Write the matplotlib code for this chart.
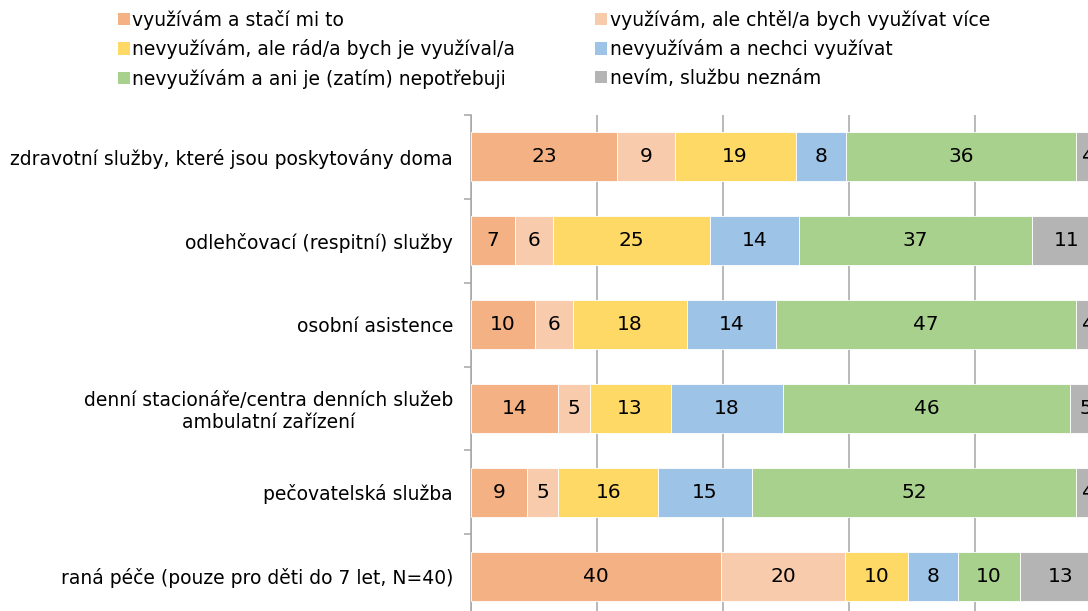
import numpy as np
import matplotlib.pyplot as plt
from matplotlib.patches import Patch

# categories, top to bottom
categories = [
    "zdravotní služby, které jsou poskytovány doma",
    "odlehčovací (respitní) služby",
    "osobní asistence",
    "denní stacionáře/centra denních služeb\nambulatní zařízení",
    "pečovatelská služba",
    "raná péče (pouze pro děti do 7 let, N=40)",
]

series_names = [
    "využívám a stačí mi to",
    "využívám, ale chtěl/a bych využívat více",
    "nevyužívám, ale rád/a bych je využíval/a",
    "nevyužívám a nechci využívat",
    "nevyužívám a ani je (zatím) nepotřebuji",
    "nevím, službu neznám",
]

uses_enough = [23, 7, 10, 14, 9, 40]
uses_wants_more = [9, 6, 6, 5, 5, 20]
not_uses_would_like = [19, 25, 18, 13, 16, 10]
not_uses_dont_want = [8, 14, 14, 18, 15, 8]
not_uses_dont_need = [36, 37, 47, 46, 52, 10]
dont_know = [4, 11, 4, 5, 4, 13]

series = [uses_enough, uses_wants_more, not_uses_would_like,
          not_uses_dont_want, not_uses_dont_need, dont_know]
colors = ["#F4B183", "#F8CBAD", "#FFD966", "#9DC3E6", "#A9D18E", "#B4B4B4"]

fig = plt.figure(figsize=(10.88, 6.11), dpi=100)
# axes extends past the right and bottom edge (chart is cropped)
ax = fig.add_axes([471 / 1088, 1 - 618 / 611, 630 / 1088, 503 / 611])

data = np.array(series, dtype=float)
totals = data.sum(axis=0)  # 100 % stacked: each row scaled to its sum
y = np.arange(len(categories))
left = np.zeros(len(categories))
for vals, col in zip(data, colors):
    widths = vals / totals * 100
    ax.barh(y, widths, left=left, height=0.585, color=col,
            edgecolor="white", linewidth=0.6, zorder=3)
    for yi, (l, w, v) in enumerate(zip(left, widths, vals)):
        ax.text(l + w / 2, yi, f"{v:.0f}", ha="center", va="center",
                fontsize=14.5, color="black", zorder=4)
    left += widths

ax.set_xlim(0, 100)
ax.set_ylim(len(categories) - 0.5, -0.5)
ax.set_xticks(np.arange(0, 101, 20))
ax.xaxis.grid(True, color="#A6A6A6", linewidth=1.1, zorder=0)
ax.tick_params(axis="x", length=0, labelbottom=False)

ax.set_yticks(y)
ax.set_yticklabels(categories, fontsize=13.5)
ax.set_yticks(np.arange(-0.5, len(categories), 1), minor=True)
ax.tick_params(axis="y", which="major", length=0, pad=13)
ax.tick_params(axis="y", which="minor", length=5, color="#A6A6A6", width=1.1)
for lbl in ax.get_yticklabels():
    lbl.set_multialignment("center")

for side in ["top", "right", "bottom"]:
    ax.spines[side].set_visible(False)
ax.spines["left"].set_color("#A6A6A6")
ax.spines["left"].set_linewidth(1.1)

# legend in row order: (1,2), (3,4), (5,6)
handles = [Patch(facecolor=c, edgecolor="none") for c in colors]
order = [0, 2, 4, 1, 3, 5]
fig.legend([handles[i] for i in order], [series_names[i] for i in order],
           ncol=2, loc="upper left", bbox_to_anchor=(101 / 1088, 1.012),
           frameon=False, fontsize=13.5, handlelength=0.62, handleheight=0.62,
           handletextpad=0.15, columnspacing=4.27, labelspacing=0.51)

fig.savefig("out.png", dpi=100)
